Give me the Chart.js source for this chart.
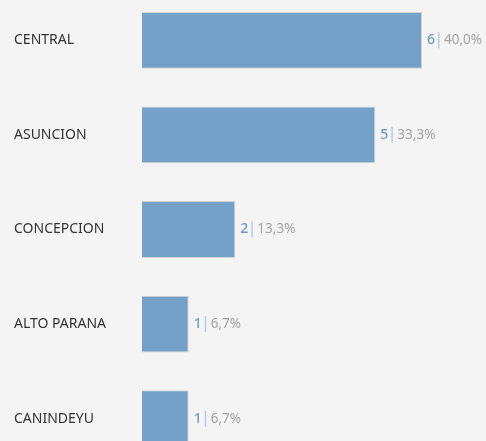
<!DOCTYPE html>
<html>
<head>
<meta charset="utf-8">
<script src="https://cdn.jsdelivr.net/npm/chart.js@4"></script>
<style>
  html, body { margin: 0; padding: 0; background: #f4f4f4; overflow: hidden; }
  #wrap { position: absolute; left: 0; top: -7px; width: 486px; height: 473px; }
</style>
</head>
<body>
<div id="wrap"><canvas id="chart"></canvas></div>
<script>
// data
const regions = ["CENTRAL", "ASUNCION", "CONCEPCION", "ALTO PARANA", "CANINDEYU"];
const counts = [6, 5, 2, 1, 1];
const pctLabels = ["40,0%", "33,3%", "13,3%", "6,7%", "6,7%"];

const FONT = "'Noto Sans', sans-serif";

// count | percent next to each bar
const valueLabels = {
  id: "valueLabels",
  afterDatasetsDraw(chart) {
    const ctx = chart.ctx;
    const meta = chart.getDatasetMeta(0);
    ctx.save();
    ctx.textBaseline = "middle";
    ctx.textAlign = "left";
    meta.data.forEach((bar, i) => {
      let x = bar.x + 5;
      const y = bar.y;
      ctx.font = "500 14px " + FONT;
      ctx.fillStyle = "#6f9bc6";
      const num = String(counts[i]);
      ctx.fillText(num, x, y);
      x += ctx.measureText(num).width + 3;
      ctx.fillStyle = "#b6cde3";
      ctx.fillRect(x, y - 8, 1.5, 16);
      x += 6;
      ctx.font = "13.5px " + FONT;
      ctx.fillStyle = "#a3a3a3";
      ctx.fillText(pctLabels[i], x, y);
    });
    ctx.restore();
  }
};

new Chart(document.getElementById("chart"), {
  type: "bar",
  data: {
    labels: regions,
    datasets: [{
      data: counts,
      backgroundColor: "#75a1c8",
      borderColor: "#d3d3d3",
      borderWidth: 1,
      categoryPercentage: 1,
      barPercentage: 0.6
    }]
  },
  options: {
    indexAxis: "y",
    responsive: true,
    maintainAspectRatio: false,
    animation: false,
    layout: { padding: { left: 14, right: 17.33, top: 0, bottom: 0 } },
    plugins: {
      legend: { display: false },
      tooltip: { enabled: false }
    },
    scales: {
      x: { display: false, min: 0, max: 7 },
      y: {
        grid: { display: false },
        border: { display: false },
        afterFit(scale) {
          scale.width = 128;
          scale.paddingTop = 0;
          scale.paddingBottom = 0;
        },
        ticks: {
          crossAlign: "far",
          color: "#333333",
          font: { family: FONT, size: 14 }
        }
      }
    }
  },
  plugins: [valueLabels]
});
</script>
</body>
</html>
